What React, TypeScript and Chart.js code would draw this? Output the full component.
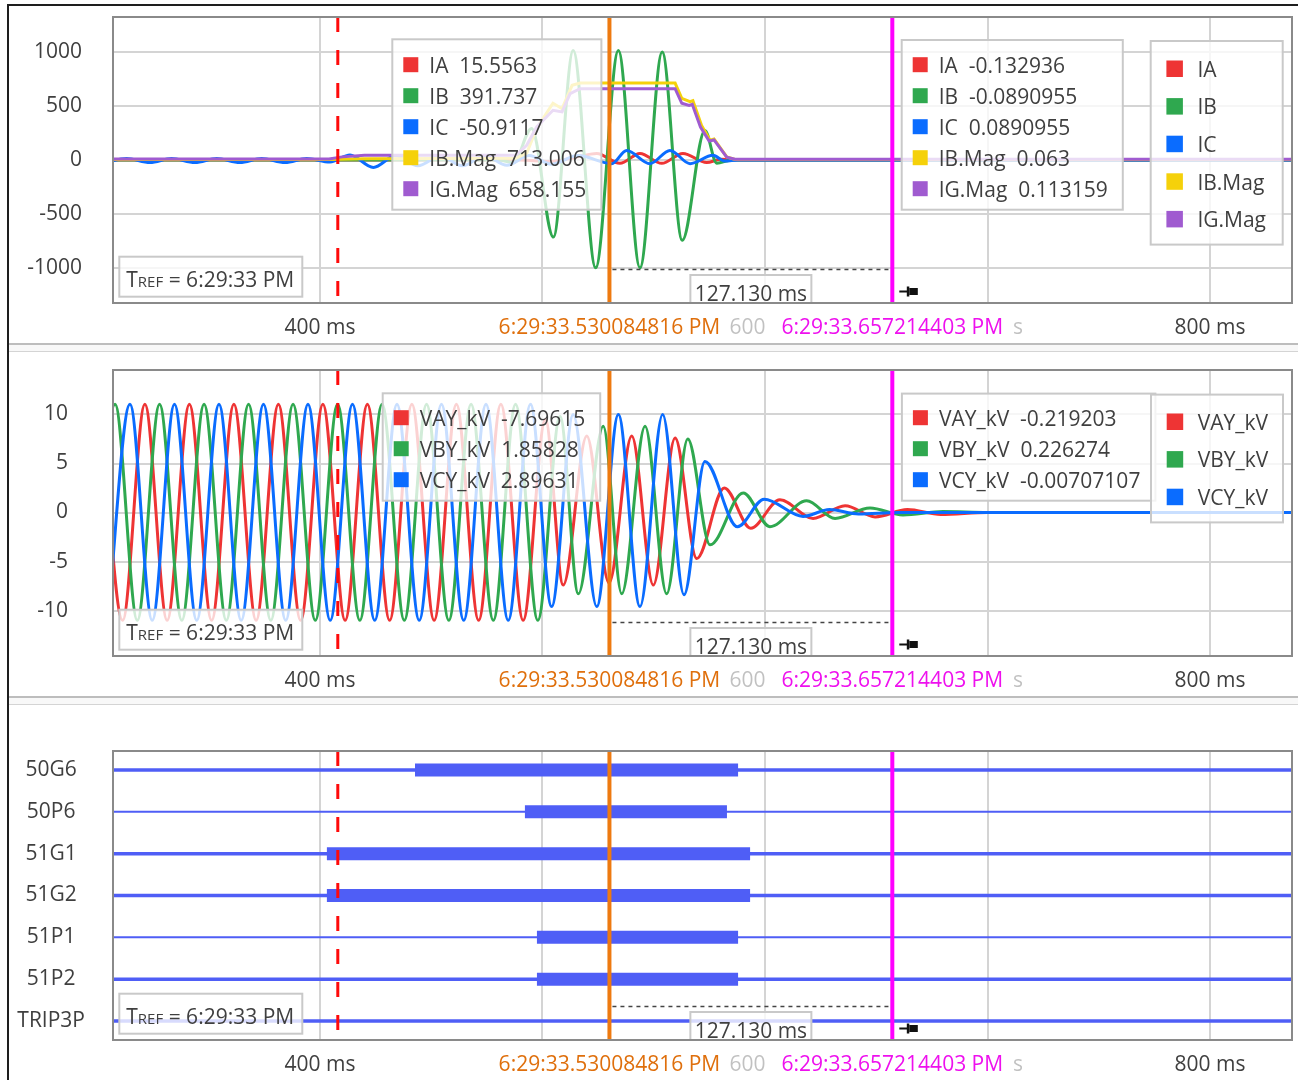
import React, { useEffect, useRef } from "react";
import { Chart, registerables } from "chart.js";

Chart.register(...registerables);

// ---------------- fonts & colours ----------------
const FONT = '"Open Sans", "Noto Sans", "DejaVu Sans", sans-serif';
const FS = 21;
const TEXT_COLOR = "#3f3f3f";
const GRID_COLOR = "#d4d4d4";
const FRAME_COLOR = "#8a8a8a";
const BOX_BORDER = "#c9c9c9";

// ---------------- time axis (ms after TREF) ----------------
const X_MIN_MS = 306.97;
const X_MAX_MS = 836.85;
const X_TICKS = [400, 500, 600, 700, 800];

// ---------------- cursors ----------------
const CURSOR_REF_MS = 408.0;
const CURSOR_1_MS = 530.084816;
const CURSOR_2_MS = 657.214403;
const CURSOR_1_LABEL = "6:29:33.530084816 PM";
const CURSOR_2_LABEL = "6:29:33.657214403 PM";
const TREF_LABEL = "6:29:33 PM";

// ---------------- currents (A) ----------------
const CURRENT_Y_TICKS = [-1000, -500, 0, 500, 1000];
const CURRENT_Y_MIN = -1327;
const CURRENT_Y_MAX = 1325;
const CURRENT_NAMES = ["IA", "IB", "IC", "IB.Mag", "IG.Mag"];
const CURRENT_COLORS = ["#ee3434", "#2fa84f", "#0a6cff", "#f5d10a", "#a05bd0"];
const CURRENT_AT_CURSOR_1 = ["15.5563", "391.737", "-50.9117", "713.006", "658.155"];
const CURRENT_AT_CURSOR_2 = ["-0.132936", "-0.0890955", "0.0890955", "0.063", "0.113159"];

const IA_T = [300, 490, 503, 514, 524.4, 534.8, 543.8, 553.6, 563.1, 573.8, 580, 588, 840];
const IA_V = [0, 0, -15, 20, 60, -32, 60, -32, 60, -25, 5, 0, 0];

const IB_T = [300, 480, 487, 495.1, 504.9, 513.8, 523.9, 534.1, 543.8, 553.8, 562.8, 573.0, 578.3, 585, 840];
const IB_V = [0, 0, -25, 292, -716, 1015, -1000, 1015, -1000, 1000, -746, 273, -30, 0, 0];

const IC_T = [
  303.1, 313.1, 323.6, 333.3, 343.8, 353.6, 364.0, 373.8, 384.3, 394.0,
  404.5, 413.5, 424.0, 434.0, 444.0, 454.0, 464.0, 474.0, 484.0, 494.0,
  504.0, 516.0, 531.1, 537.8, 548.3, 557.3, 566.3, 576.6, 582.0, 588.0, 840.0,
];
const IC_V = [
  -25, 12, -25, 12, -25, 12, -25, 12, -25, 14,
  -20, 45, -70, 40, -55, 35, -55, 40, -50, 40,
  -40, 40, -35, 88, -35, 88, -35, 42, -10, 0, 0,
];

const IBMAG_T = [300, 404, 420, 488, 492.9, 497.4, 504.7, 508.8, 513.3, 516.9, 559.6, 562.6, 566.3, 567.6, 571.5, 575.3, 577.1, 582.8, 586.5, 840];
const IBMAG_V = [4, 4, 10, 15, 62, 293, 525, 475, 691, 712, 712, 570, 540, 550, 320, 183, 193, 27, 4, 3];

const IGMAG_T = [300, 404, 410, 420, 488, 492.9, 497.4, 504.7, 508.8, 512.4, 516.9, 559.6, 562.6, 565.9, 567.3, 571.0, 574.9, 577.1, 582.8, 586.5, 840];
const IGMAG_V = [9, 9, 28, 42, 42, 135, 305, 460, 445, 615, 660, 660, 525, 505, 515, 305, 175, 185, 25, 6, 5];

// ---------------- voltages (kV), extrema of each phase ----------------
const VOLTAGE_Y_TICKS = [-10, -5, 0, 5, 10];
const VOLTAGE_Y_MIN = -14.64;
const VOLTAGE_Y_MAX = 14.54;
const VOLTAGE_NAMES = ["VAY_kV", "VBY_kV", "VCY_kV"];
const VOLTAGE_COLORS = ["#ee3434", "#2fa84f", "#0a6cff"];
const VOLTAGE_AT_CURSOR_1 = ["-7.69615", "1.85828", "2.89631"];
const VOLTAGE_AT_CURSOR_2 = ["-0.219203", "0.226274", "-0.00707107"];

const VA_T = [
  301.3, 311.3, 321.3, 331.3, 341.3, 351.3, 361.3, 371.3, 381.3, 391.3,
  401.3, 411.3, 421.3, 431.3, 441.3, 451.3, 461.3, 471.3, 481.3, 491.3,
  501.3, 509.3, 519.9, 529.9, 540.1, 549.8, 559.6, 569.3, 581.7, 593.6,
  606.7, 621.6, 636.0, 649.5, 664.0, 679.0, 700.0, 840.0,
];
const VA_V = [
  11.05, -11.0, 11.05, -11.0, 11.05, -11.0, 11.05, -11.0, 11.05, -11.0,
  11.05, -11.0, 11.05, -11.0, 11.05, -11.0, 11.05, -11.0, 11.05, -11.0,
  9.5, -7.4, 7.8, -7.2, 7.8, -7.4, 7.6, -4.7, 2.5, -1.6,
  1.3, -0.6, 0.7, -0.45, 0.3, -0.2, 0, 0,
];

const VB_T = [
  297.9, 307.9, 317.9, 327.9, 337.9, 347.9, 357.9, 367.9, 377.9, 387.9,
  397.9, 407.9, 417.9, 427.9, 437.9, 447.9, 457.9, 467.9, 477.9, 487.9,
  497.9, 507.9, 516.1, 527.3, 535.6, 546.1, 555.8, 565.3, 575.3, 590.2,
  602.2, 618.7, 631.5, 647.2, 662.0, 680.0, 700.0, 840.0,
];
const VB_V = [
  -11.0, 11.05, -11.0, 11.05, -11.0, 11.05, -11.0, 11.05, -11.0, 11.05,
  -11.0, 11.05, -11.0, 11.05, -11.0, 11.05, -11.0, 11.05, -11.0, 11.05,
  -11.0, 9.8, -8.3, 8.8, -8.3, 8.8, -8.3, 7.5, -3.3, 2.0,
  -1.45, 1.2, -0.6, 0.45, -0.25, 0.1, 0, 0,
];

const VC_T = [
  304.6, 314.6, 324.6, 334.6, 344.6, 354.6, 364.6, 374.6, 384.6, 394.6,
  404.6, 414.6, 424.6, 434.6, 444.6, 454.6, 464.6, 474.6, 484.6, 494.6,
  504.1, 513.8, 524.4, 534.1, 543.8, 554.0, 563.6, 573.0, 587.6, 599.6,
  617.1, 629.0, 642.0, 660.0, 840.0,
];
const VC_V = [
  -11.0, 11.05, -11.0, 11.05, -11.0, 11.05, -11.0, 11.05, -11.0, 11.05,
  -11.0, 11.05, -11.0, 11.05, -11.0, 11.05, -11.0, 11.05, -11.0, 11.05,
  -9.6, 10.0, -9.6, 10.0, -9.6, 10.0, -8.4, 5.2, -1.45, 1.35,
  -0.4, 0.3, -0.15, 0, 0,
];

// ---------------- digital channels ----------------
const DIG_NAMES = ["50G6", "50P6", "51G1", "51G2", "51P1", "51P2", "TRIP3P"];
const DIG_ON_MS = [442.7, 492.1, 403.1, 403.1, 497.5, 497.5, null];
const DIG_OFF_MS = [587.9, 582.9, 593.3, 593.3, 587.9, 587.9, null];
const DIG_BASE_WIDTH = [3.5, 2, 3.5, 3.5, 2, 3.5, 3.5];
const DIG_COLOR = "#4f5ef6";

// ---------------- helpers ----------------
const series = (T: number[], V: number[]) => T.map((t, i) => ({ x: t, y: V[i] }));

function wave(label: string, T: number[], V: number[], color: string, order: number) {
  return {
    label,
    data: series(T, V),
    borderColor: color,
    backgroundColor: color,
    borderWidth: 3,
    pointRadius: 0,
    cubicInterpolationMode: "monotone",
    fill: false,
    order,
    clip: 0,
  };
}

function polyline(label: string, T: number[], V: number[], color: string, order: number) {
  return {
    label,
    data: series(T, V),
    borderColor: color,
    backgroundColor: color,
    borderWidth: 3,
    pointRadius: 0,
    tension: 0,
    fill: false,
    order,
    clip: 0,
  };
}

function font(size: number) {
  return `${size}px ${FONT}`;
}

function strokeLine(ctx: any, x1: number, y1: number, x2: number, y2: number, color: string, width: number, dash: number[] = []) {
  ctx.save();
  ctx.strokeStyle = color;
  ctx.lineWidth = width;
  ctx.setLineDash(dash);
  ctx.beginPath();
  ctx.moveTo(x1, y1);
  ctx.lineTo(x2, y2);
  ctx.stroke();
  ctx.restore();
}

function panelBox(ctx: any, x: number, y: number, w: number, h: number) {
  ctx.save();
  ctx.fillStyle = "rgba(255,255,255,0.78)";
  ctx.fillRect(x, y, w, h);
  ctx.strokeStyle = BOX_BORDER;
  ctx.lineWidth = 2;
  ctx.strokeRect(x, y, w, h);
  ctx.restore();
}

type LegendSpec = { relX: number; relY: number; names: string[]; colors: string[]; values?: string[] };

function drawValueLegend(ctx: any, a: any, s: LegendSpec) {
  const x = a.left + s.relX;
  const y = a.top + s.relY;
  const rowY = (i: number) => a.top + 47.7 + 31 * i;
  ctx.save();
  ctx.font = font(FS);
  const texts = s.names.map((n, i) => `${n}  ${s.values ? s.values[i] : ""}`);
  const maxW = Math.max(...texts.map((t) => ctx.measureText(t).width));
  const w = 37 + maxW + 15;
  const h = rowY(s.names.length - 1) + 21 - y;
  panelBox(ctx, x, y, w, h);
  texts.forEach((t, i) => {
    const cy = rowY(i);
    ctx.fillStyle = s.colors[i];
    ctx.fillRect(x + 11, cy - 7.5, 15, 15);
    ctx.fillStyle = TEXT_COLOR;
    ctx.font = font(FS);
    ctx.textAlign = "left";
    ctx.textBaseline = "alphabetic";
    ctx.fillText(t, x + 37, cy + 7.8);
  });
  ctx.restore();
}

function drawNameLegend(ctx: any, a: any, s: LegendSpec) {
  const x = a.left + s.relX;
  const y = a.top + s.relY;
  const rowY = (i: number) => a.top + 51.7 + 37.6 * i;
  const w = 132;
  const h = rowY(s.names.length - 1) + 25.5 - y;
  ctx.save();
  panelBox(ctx, x, y, w, h);
  s.names.forEach((n, i) => {
    const cy = rowY(i);
    ctx.fillStyle = s.colors[i];
    ctx.fillRect(x + 15.7, cy - 8.2, 16.5, 16.5);
    ctx.fillStyle = TEXT_COLOR;
    ctx.font = font(FS);
    ctx.textAlign = "left";
    ctx.textBaseline = "alphabetic";
    ctx.fillText(n, x + 46.7, cy + 8);
  });
  ctx.restore();
}

function drawTref(ctx: any, a: any) {
  const x = a.left + 6.3;
  const y = a.bottom - 46.3;
  panelBox(ctx, x, y, 183, 40);
  ctx.save();
  ctx.fillStyle = TEXT_COLOR;
  ctx.textAlign = "left";
  ctx.textBaseline = "alphabetic";
  let cx = x + 7;
  const base = y + 30;
  ctx.font = font(FS);
  ctx.fillText("T", cx, base);
  cx += ctx.measureText("T").width;
  ctx.font = font(15);
  ctx.fillText("REF", cx, base);
  cx += ctx.measureText("REF").width;
  ctx.font = font(FS);
  ctx.fillText(` = ${TREF_LABEL}`, cx, base);
  ctx.restore();
}

function drawPin(ctx: any, x: number, cy: number) {
  ctx.save();
  ctx.fillStyle = "#111";
  ctx.fillRect(x, cy - 1, 8, 2);
  ctx.fillRect(x + 7.5, cy - 5, 2.5, 10);
  ctx.fillRect(x + 10, cy - 3.5, 8.5, 7);
  ctx.restore();
}

type OverlaySpec = { legends: LegendSpec[]; names: LegendSpec | null };

function overlayPlugin(spec: OverlaySpec) {
  return {
    id: "overlay",
    afterDraw(chart: any) {
      const { ctx, chartArea: a, scales } = chart;
      const xs = scales.x;
      const xRef = xs.getPixelForValue(CURSOR_REF_MS);
      const x1 = xs.getPixelForValue(CURSOR_1_MS);
      const x2 = xs.getPixelForValue(CURSOR_2_MS);

      ctx.save();
      ctx.beginPath();
      ctx.rect(a.left, a.top, a.right - a.left, a.bottom - a.top);
      ctx.clip();

      // cursors
      strokeLine(ctx, xRef, a.top, xRef, a.bottom, "#ff0a0a", 3, [15, 18]);
      strokeLine(ctx, x1, a.top, x1, a.bottom, "#ee7a10", 4);
      strokeLine(ctx, x2, a.top, x2, a.bottom, "#ff00ff", 4);

      // delta measurement
      const my = a.bottom - 33.5;
      strokeLine(ctx, x1 + 3, my, x2 - 3, my, "#444", 1.5, [4, 4]);
      const mw = 121;
      const mcx = (x1 + x2) / 2;
      const mtop = a.bottom - 28;
      panelBox(ctx, mcx - mw / 2, mtop, mw, 40);
      ctx.fillStyle = TEXT_COLOR;
      ctx.font = font(FS);
      ctx.textAlign = "center";
      ctx.textBaseline = "alphabetic";
      ctx.fillText(`${(CURSOR_2_MS - CURSOR_1_MS).toFixed(3)} ms`, mcx, mtop + 26);

      drawPin(ctx, x2 + 7, a.bottom - 11.5);

      spec.legends.forEach((l) => drawValueLegend(ctx, a, l));
      if (spec.names) drawNameLegend(ctx, a, spec.names);
      drawTref(ctx, a);
      ctx.restore();

      // plot frame
      ctx.save();
      ctx.strokeStyle = FRAME_COLOR;
      ctx.lineWidth = 2;
      ctx.strokeRect(a.left, a.top, a.right - a.left, a.bottom - a.top);
      ctx.restore();

      // cursor time labels below the axis
      ctx.save();
      ctx.font = font(FS);
      const w1 = ctx.measureText(CURSOR_1_LABEL).width;
      const w2 = ctx.measureText(CURSOR_2_LABEL).width;
      const ly = a.bottom + 25.5;
      ctx.fillStyle = "rgba(255,255,255,0.68)";
      ctx.fillRect(x1 - w1 / 2 - 4, ly - 13, x2 + w2 / 2 + 30 - (x1 - w1 / 2 - 4), 26);
      ctx.fillStyle = "#ffffff";
      ctx.fillRect(x1 - w1 / 2 - 4, ly - 13, w1 + 8, 26);
      ctx.fillRect(x2 - w2 / 2 - 14, ly - 13, w2 + 23, 26);
      ctx.textAlign = "center";
      ctx.textBaseline = "middle";
      ctx.fillStyle = "#df6f0c";
      ctx.fillText(CURSOR_1_LABEL, x1, ly);
      ctx.fillStyle = "#ee10ee";
      ctx.fillText(CURSOR_2_LABEL, x2, ly);
      ctx.restore();
    },
  };
}

type PanelGeom = { canvasTop: number; canvasHeight: number; plotTop: number; plotBottom: number };

const GEOM_CURRENT: PanelGeom = { canvasTop: 6, canvasHeight: 337, plotTop: 17, plotBottom: 303 };
const GEOM_VOLTAGE: PanelGeom = { canvasTop: 353, canvasHeight: 343, plotTop: 370, plotBottom: 656 };
const GEOM_DIGITAL: PanelGeom = { canvasTop: 706, canvasHeight: 374, plotTop: 751, plotBottom: 1040 };

function baseOptions(g: PanelGeom, y: any) {
  const xAxisH = g.canvasTop + g.canvasHeight - g.plotBottom;
  return {
    animation: false,
    responsive: false,
    devicePixelRatio: 1,
    events: [],
    layout: { autoPadding: false, padding: { top: g.plotTop - g.canvasTop, right: 6, left: 0, bottom: 0 } },
    plugins: { legend: { display: false }, tooltip: { enabled: false }, title: { display: false } },
    scales: {
      x: {
        type: "linear",
        min: X_MIN_MS,
        max: X_MAX_MS,
        afterBuildTicks: (s: any) => {
          s.ticks = X_TICKS.map((v) => ({ value: v }));
        },
        afterFit: (s: any) => {
          s.height = xAxisH;
          s.paddingLeft = 0;
          s.paddingRight = 0;
        },
        grid: { color: GRID_COLOR, lineWidth: 2, drawTicks: false },
        border: { display: false },
        ticks: {
          padding: 12.5,
          color: TEXT_COLOR,
          font: { family: FONT, size: FS },
          maxRotation: 0,
          autoSkip: false,
          callback: (v: any) => `${v} ms`,
        },
      },
      y,
    },
  };
}

function numericY(ticks: number[], min: number, max: number, padding: number) {
  return {
    type: "linear",
    min,
    max,
    afterBuildTicks: (s: any) => {
      s.ticks = ticks.map((v) => ({ value: v }));
    },
    afterFit: (s: any) => {
      s.width = 113;
      s.paddingTop = 0;
      s.paddingBottom = 0;
    },
    grid: { color: GRID_COLOR, lineWidth: 2, drawTicks: false },
    border: { display: false },
    ticks: { padding, color: TEXT_COLOR, font: { family: FONT, size: FS }, callback: (v: any) => String(v) },
  };
}

function currentConfig() {
  const datasets = [
    wave("IA", IA_T, IA_V, CURRENT_COLORS[0], 10),
    wave("IB", IB_T, IB_V, CURRENT_COLORS[1], 9),
    wave("IC", IC_T, IC_V, CURRENT_COLORS[2], 8),
    polyline("IB.Mag", IBMAG_T, IBMAG_V, CURRENT_COLORS[3], 7),
    polyline("IG.Mag", IGMAG_T, IGMAG_V, CURRENT_COLORS[4], 6),
  ];
  return {
    type: "line",
    data: { datasets },
    options: baseOptions(GEOM_CURRENT, numericY(CURRENT_Y_TICKS, CURRENT_Y_MIN, CURRENT_Y_MAX, 31)),
    plugins: [
      overlayPlugin({
        legends: [
          { relX: 279.3, relY: 22.3, names: CURRENT_NAMES, colors: CURRENT_COLORS, values: CURRENT_AT_CURSOR_1 },
          { relX: 788.7, relY: 23, names: CURRENT_NAMES, colors: CURRENT_COLORS, values: CURRENT_AT_CURSOR_2 },
        ],
        names: { relX: 1037.7, relY: 24, names: CURRENT_NAMES, colors: CURRENT_COLORS },
      }),
    ],
  };
}

function voltageConfig() {
  const datasets = [
    wave("VAY_kV", VA_T, VA_V, VOLTAGE_COLORS[0], 10),
    wave("VBY_kV", VB_T, VB_V, VOLTAGE_COLORS[1], 9),
    wave("VCY_kV", VC_T, VC_V, VOLTAGE_COLORS[2], 8),
  ];
  return {
    type: "line",
    data: { datasets },
    options: baseOptions(GEOM_VOLTAGE, numericY(VOLTAGE_Y_TICKS, VOLTAGE_Y_MIN, VOLTAGE_Y_MAX, 45)),
    plugins: [
      overlayPlugin({
        legends: [
          { relX: 269.7, relY: 23.3, names: VOLTAGE_NAMES, colors: VOLTAGE_COLORS, values: VOLTAGE_AT_CURSOR_1 },
          { relX: 788.9, relY: 23.6, names: VOLTAGE_NAMES, colors: VOLTAGE_COLORS, values: VOLTAGE_AT_CURSOR_2 },
        ],
        names: { relX: 1038, relY: 24.6, names: VOLTAGE_NAMES, colors: VOLTAGE_COLORS },
      }),
    ],
  };
}

function digitalConfig() {
  const datasets: any[] = [];
  DIG_NAMES.forEach((name, i) => {
    datasets.push({
      label: name,
      data: [
        { x: X_MIN_MS - 5, y: i },
        { x: X_MAX_MS + 5, y: i },
      ],
      borderColor: DIG_COLOR,
      borderWidth: DIG_BASE_WIDTH[i],
      pointRadius: 0,
      tension: 0,
      order: 5,
      clip: 0,
    });
    const on = DIG_ON_MS[i];
    const off = DIG_OFF_MS[i];
    if (on !== null && off !== null) {
      datasets.push({
        label: name + " on",
        data: [
          { x: on, y: i },
          { x: off, y: i },
        ],
        borderColor: DIG_COLOR,
        borderWidth: 13,
        borderCapStyle: "butt",
        pointRadius: 0,
        tension: 0,
        order: 1,
        clip: 0,
      });
    }
  });
  const y = {
    type: "linear",
    reverse: true,
    min: -0.454,
    max: DIG_NAMES.length - 1 + 0.454,
    afterBuildTicks: (s: any) => {
      s.ticks = DIG_NAMES.map((_, i) => ({ value: i }));
    },
    afterFit: (s: any) => {
      s.width = 113;
      s.paddingTop = 0;
      s.paddingBottom = 0;
    },
    grid: { display: false, drawTicks: false },
    border: { display: false },
    ticks: {
      padding: 28,
      crossAlign: "center",
      color: TEXT_COLOR,
      font: { family: FONT, size: FS },
      callback: (v: any) => DIG_NAMES[v] ?? "",
    },
  };
  return {
    type: "line",
    data: { datasets },
    options: baseOptions(GEOM_DIGITAL, y),
    plugins: [overlayPlugin({ legends: [], names: null })],
  };
}

function ChartPanel({ geom, build }: { geom: PanelGeom; build: () => any }) {
  const ref = useRef<HTMLCanvasElement>(null);
  useEffect(() => {
    const chart = new Chart(ref.current as HTMLCanvasElement, build());
    return () => chart.destroy();
  }, []);
  return (
    <canvas
      ref={ref}
      width={1298}
      height={geom.canvasHeight}
      style={{ position: "absolute", left: 0, top: geom.canvasTop, width: 1298, height: geom.canvasHeight }}
    />
  );
}

function Separator({ top }: { top: number }) {
  return (
    <>
      <div style={{ position: "absolute", left: 9, top, width: 1289, height: 2, background: "#bdbdbd" }} />
      <div style={{ position: "absolute", left: 9, top: top + 2, width: 1289, height: 6, background: "#f8f8f8" }} />
      <div style={{ position: "absolute", left: 9, top: top + 8, width: 1289, height: 1, background: "#d4d4d4" }} />
    </>
  );
}

export default function App() {
  return (
    <div
      style={{
        position: "absolute",
        left: 0,
        top: 0,
        width: 1298,
        height: 1080,
        background: "#ffffff",
        overflow: "hidden",
        fontFamily: FONT,
      }}
    >
      <div style={{ position: "absolute", left: 7, top: 4, width: 1291, height: 2, background: "#1e1e1e" }} />
      <div style={{ position: "absolute", left: 7, top: 4, width: 2, height: 1076, background: "#1e1e1e" }} />
      <Separator top={343} />
      <Separator top={696} />
      <ChartPanel geom={GEOM_CURRENT} build={currentConfig} />
      <ChartPanel geom={GEOM_VOLTAGE} build={voltageConfig} />
      <ChartPanel geom={GEOM_DIGITAL} build={digitalConfig} />
    </div>
  );
}
